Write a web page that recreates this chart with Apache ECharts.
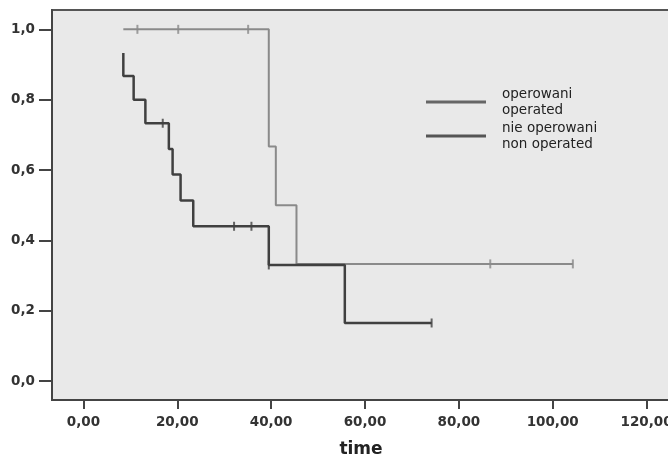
<!DOCTYPE html>
<html>
<head>
<meta charset="utf-8">
<script src="https://cdn.jsdelivr.net/npm/echarts@6/dist/echarts.min.js"></script>
<style>
html, body { margin: 0; padding: 0; background: #fff; }
#main { width: 668px; height: 457px; }
</style>
</head>
<body>
<div id="main"></div>
<script>
// Kaplan-Meier steps (time, survival)
var opTimes = [8.5, 39.5, 41.0, 45.4, 104.3];
var opSurv = [1.0, 0.667, 0.5, 0.333, 0.333];
var opCensTimes = [11.5, 20.2, 35.1, 86.7, 104.3];
var opCensSurv = [1.0, 1.0, 1.0, 0.333, 0.333];

var nonTimes = [8.5, 8.5, 10.7, 13.2, 18.2, 19.0, 20.7, 23.4, 39.5, 55.7, 74.2];
var nonSurv = [0.933, 0.867, 0.8, 0.733, 0.66, 0.587, 0.513, 0.44, 0.33, 0.165, 0.165];
var nonCensTimes = [16.9, 32.1, 35.8, 39.5, 74.2];
var nonCensSurv = [0.733, 0.44, 0.44, 0.33, 0.165];

var xTicks = [0, 20, 40, 60, 80, 100, 120];
var yTicks = [0, 0.2, 0.4, 0.6, 0.8, 1.0];

var nameOp = 'operowani\noperated';
var nameNon = 'nie operowani\nnon operated';

function pairs(xs, ys) {
    var rs = [];
    for (var i = 0; i < xs.length; i++) {
        rs.push([xs[i], ys[i]]);
    }
    return rs;
}

var chart = echarts.init(document.getElementById('main'));
chart.setOption({
    animation: false,
    grid: {
        left: 52, top: 10, right: -2, bottom: 57,
        outerBoundsMode: 'none',
        containLabel: false,
        show: true,
        backgroundColor: '#e9e9e9',
        borderColor: '#555',
        borderWidth: 2
    },
    legend: {
        orient: 'vertical',
        left: 421, top: 81,
        itemWidth: 60, itemHeight: 3,
        itemGap: 2,
        icon: 'rect',
        textStyle: {
            fontFamily: 'DejaVu Sans', fontSize: 13.5, lineHeight: 16, color: '#222',
            padding: [0, 0, 0, 11]
        },
        data: [
            {name: nameOp, itemStyle: {color: '#666'}},
            {name: nameNon, itemStyle: {color: '#555'}}
        ]
    },
    xAxis: {
        type: 'value',
        min: -6.7, max: 125,
        name: 'time',
        nameLocation: 'middle',
        nameGap: 41,
        nameTextStyle: {fontFamily: 'DejaVu Sans', fontWeight: 'bold', fontSize: 17, color: '#222'},
        splitLine: {show: false},
        axisLine: {onZero: false, lineStyle: {color: '#444', width: 2}},
        axisTick: {customValues: xTicks, length: 9, lineStyle: {color: '#444', width: 2}},
        axisLabel: {
            customValues: xTicks, margin: 15,
            fontFamily: 'DejaVu Sans', fontWeight: 'bold', fontSize: 13.5, color: '#333',
            formatter: function (v) { return v.toFixed(2).replace('.', ','); }
        }
    },
    yAxis: {
        type: 'value',
        min: -0.054, max: 1.055,
        splitLine: {show: false},
        axisLine: {show: true, onZero: false, lineStyle: {color: '#444', width: 2}},
        axisTick: {show: true, customValues: yTicks, length: 13, lineStyle: {color: '#444', width: 2}},
        axisLabel: {
            customValues: yTicks, margin: 17,
            fontFamily: 'DejaVu Sans', fontWeight: 'bold', fontSize: 13.5, color: '#333',
            formatter: function (v) { return v.toFixed(1).replace('.', ','); }
        }
    },
    series: [{
        name: nameOp,
        type: 'line',
        step: 'end',
        symbol: 'none',
        color: '#888',
        lineStyle: {color: '#8a8a8a', width: 2},
        data: pairs(opTimes, opSurv)
    }, {
        name: nameNon,
        type: 'line',
        step: 'end',
        symbol: 'none',
        color: '#444',
        lineStyle: {color: '#404040', width: 2.5},
        data: pairs(nonTimes, nonSurv)
    }, {
        type: 'scatter',
        symbol: 'rect',
        symbolSize: [2, 9],
        itemStyle: {color: '#888'},
        data: pairs(opCensTimes, opCensSurv)
    }, {
        type: 'scatter',
        symbol: 'rect',
        symbolSize: [2, 9],
        itemStyle: {color: '#404040'},
        data: pairs(nonCensTimes, nonCensSurv)
    }]
});
</script>
</body>
</html>
